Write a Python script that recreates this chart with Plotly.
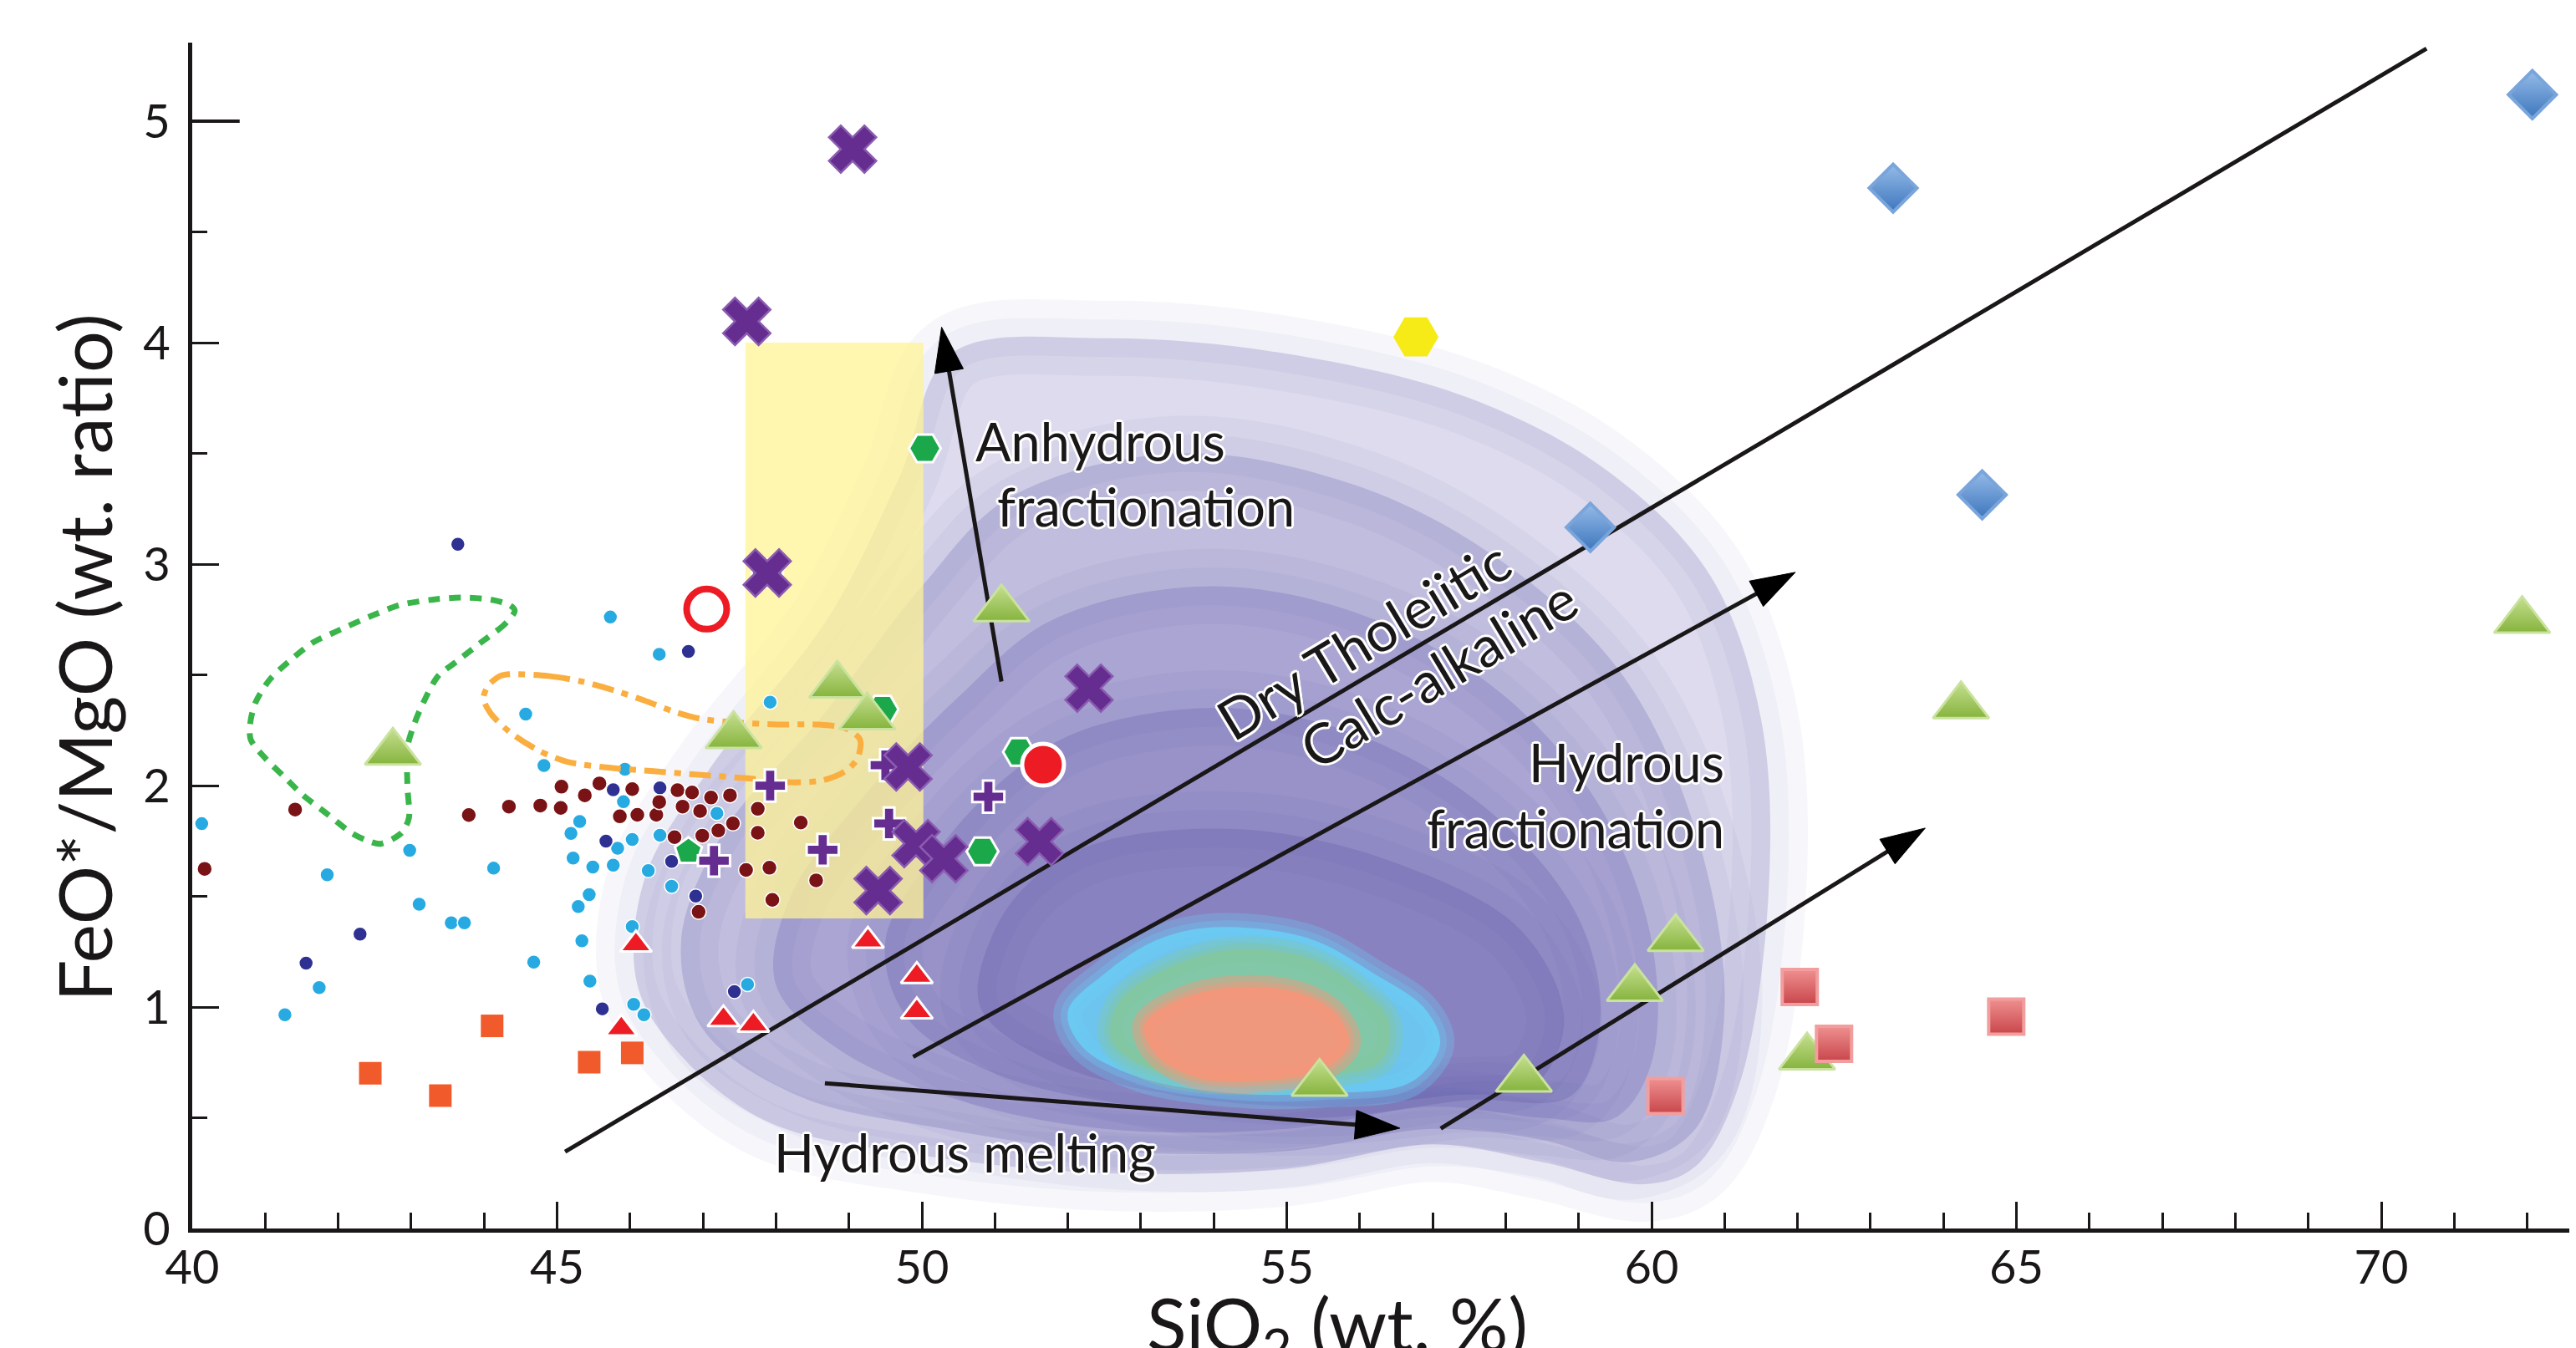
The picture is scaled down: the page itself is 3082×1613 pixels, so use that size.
import plotly.graph_objects as go

# ---------------- data ----------------
cyan_x = [45.73, 46.40, 44.57, 44.82, 45.93, 47.92, 40.13, 45.91, 45.31, 45.19, 46.03, 45.83, 46.41, 47.19,
          42.98, 41.85, 44.13, 45.22, 45.49, 45.77, 46.25, 46.57, 45.44, 45.29, 43.11, 43.55, 43.73, 46.03,
          45.34, 44.68, 41.74, 41.27, 45.45, 46.05, 46.19, 47.61]
cyan_y = [2.761, 2.593, 2.323, 2.091, 2.074, 2.377, 1.828, 1.927, 1.838, 1.784, 1.757, 1.717, 1.776, 1.875,
          1.708, 1.597, 1.627, 1.673, 1.632, 1.641, 1.616, 1.545, 1.508, 1.454, 1.464, 1.380, 1.380, 1.363,
          1.299, 1.203, 1.088, 0.965, 1.117, 1.012, 0.965, 1.102]

navy_x = [43.64, 46.80, 45.77, 46.41, 45.67, 46.57, 46.90, 42.30, 41.56, 45.62, 47.43]
navy_y = [3.090, 2.606, 1.981, 1.990, 1.749, 1.658, 1.501, 1.329, 1.198, 0.992, 1.070]

maroon_x = [41.41, 40.17, 43.79, 44.34, 44.77, 45.05, 45.06, 45.38, 45.58, 46.03, 45.86, 46.10, 46.36, 46.40,
            46.65, 46.85, 46.72, 46.96, 47.11, 47.37, 47.75, 47.41, 47.21, 46.99, 46.61, 47.75, 48.34, 47.59,
            47.91, 48.55, 47.95, 46.94]
maroon_y = [1.892, 1.624, 1.867, 1.905, 1.910, 1.899, 1.995, 1.956, 2.010, 1.984, 1.861, 1.868, 1.868, 1.926,
            1.979, 1.969, 1.905, 1.885, 1.946, 1.956, 1.895, 1.829, 1.797, 1.774, 1.767, 1.787, 1.833, 1.619,
            1.629, 1.572, 1.484, 1.430]

osq_x = [44.11, 42.44, 43.40, 45.44, 46.03]
osq_y = [0.915, 0.701, 0.600, 0.751, 0.793]

rtri_x = [46.08, 45.88, 47.28, 47.69, 49.26, 49.93, 49.93]
rtri_y = [1.282, 0.903, 0.945, 0.920, 1.299, 1.140, 0.980]

gtri_x = [42.75, 47.42, 48.84, 49.25, 51.09, 55.45, 58.25, 59.77, 60.33, 62.13, 64.24, 71.93]
gtri_y = [2.150, 2.225, 2.453, 2.310, 2.797, 0.655, 0.674, 1.083, 1.309, 0.774, 2.360, 2.745]

px_x = [49.05, 47.60, 47.88, 52.29, 49.81, 49.40, 49.92, 50.30, 51.61]
px_y = [4.874, 4.096, 2.960, 2.440, 2.084, 1.526, 1.738, 1.670, 1.747]

plus_x = [47.92, 47.15, 48.64, 49.55, 49.50, 50.91]
plus_y = [2.000, 1.661, 1.710, 1.829, 2.092, 1.950]

hex_x = [50.04, 49.46, 51.33, 50.83, 47.88]
hex_y = [3.523, 2.344, 2.152, 1.703, 2.960]

pent_x = [46.80]
pent_y = [1.703]

ocirc_x = [47.05]
ocirc_y = [2.797]

rcirc_x = [51.66]
rcirc_y = [2.094]

yhex_x = [56.77]
yhex_y = [4.026]

diam_x = [63.31, 59.16, 64.53, 72.07]
diam_y = [4.698, 3.166, 3.313, 5.120]

rsq_x = [62.03, 62.50, 60.19, 64.86]
rsq_y = [1.091, 0.834, 0.598, 0.957]

# closed outlines
green_loop_x = [44.42, 44.29, 43.96, 43.63, 43.37, 43.17, 43.04, 42.95, 42.95, 42.97, 42.87, 42.58, 42.38,
                42.18, 41.85, 41.52, 41.26, 41.00, 40.80, 40.80, 40.87, 41.06, 41.33, 41.66, 41.98, 42.44,
                42.84, 43.30, 43.69, 44.09, 44.35, 44.42]
green_loop_y = [2.790, 2.731, 2.647, 2.562, 2.495, 2.377, 2.276, 2.175, 1.990, 1.855, 1.787, 1.737, 1.754,
                1.787, 1.872, 1.956, 2.040, 2.124, 2.209, 2.293, 2.377, 2.478, 2.562, 2.647, 2.697, 2.764,
                2.815, 2.840, 2.849, 2.840, 2.815, 2.790]

orange_loop_x = [44.35, 44.88, 45.34, 45.80, 46.19, 46.59, 46.98, 47.51, 48.03, 48.56, 48.95, 49.15, 49.12,
                 48.95, 48.63, 48.17, 47.64, 46.98, 46.32, 45.67, 45.14, 44.75, 44.35, 44.09, 43.99, 44.06,
                 44.22, 44.35]
orange_loop_y = [2.503, 2.495, 2.470, 2.428, 2.385, 2.335, 2.301, 2.284, 2.276, 2.276, 2.259, 2.209, 2.124,
                 2.065, 2.023, 2.015, 2.032, 2.048, 2.065, 2.082, 2.107, 2.158, 2.242, 2.326, 2.394, 2.453,
                 2.495, 2.503]

rect_x = [47.58, 50.02, 50.02, 47.58, 47.58]
rect_y = [1.40, 1.40, 4.00, 4.00, 1.40]

# density cloud levels (outer -> inner)
cloud1_x = [50.4, 52.5, 55.0, 57.5, 59.4, 60.8, 61.5, 61.6, 61.2, 60.6, 59.9, 58.5, 57.0, 55.0, 52.5, 50.0,
            47.9, 46.7, 46.1, 46.2, 47.1, 48.7, 49.7, 50.4]
cloud1_y = [3.95, 4.02, 3.95, 3.75, 3.42, 2.95, 2.30, 1.50, 0.65, 0.28, 0.20, 0.30, 0.38, 0.27, 0.25, 0.33,
            0.48, 0.78, 1.10, 1.58, 2.08, 2.75, 3.40, 3.95]
cloud2_x = [51.2, 53.5, 56.0, 58.0, 59.6, 60.6, 61.0, 60.6, 59.7, 58.5, 57.0, 55.0, 52.5, 50.3, 48.3, 47.0,
            46.7, 47.3, 48.6, 50.0, 51.2]
cloud2_y = [3.30, 3.50, 3.35, 3.00, 2.50, 1.80, 1.00, 0.45, 0.30, 0.40, 0.45, 0.35, 0.35, 0.45, 0.60, 0.90,
            1.30, 1.80, 2.30, 2.90, 3.30]
cloud3_x = [51.8, 54.0, 56.2, 58.0, 59.3, 60.0, 60.0, 59.5, 58.5, 57.0, 55.0, 52.5, 50.5, 48.9, 48.0, 48.2,
            49.2, 50.5, 51.8]
cloud3_y = [2.75, 2.90, 2.75, 2.40, 1.90, 1.30, 0.75, 0.50, 0.50, 0.55, 0.45, 0.45, 0.58, 0.80, 1.10, 1.50,
            1.95, 2.40, 2.75]
cloud4_x = [52.2, 54.2, 56.2, 57.9, 59.0, 59.3, 58.9, 57.5, 55.5, 53.0, 51.0, 49.8, 49.5, 50.2, 51.2, 52.2]
cloud4_y = [2.25, 2.35, 2.20, 1.85, 1.40, 0.95, 0.60, 0.58, 0.50, 0.55, 0.70, 0.95, 1.30, 1.70, 2.05, 2.25]
cloud5_x = [52.5, 54.5, 56.5, 58.2, 58.8, 58.4, 57.2, 55.5, 53.5, 51.8, 50.8, 51.0, 51.6, 52.5]
cloud5_y = [1.75, 1.80, 1.65, 1.35, 0.95, 0.65, 0.60, 0.55, 0.60, 0.75, 1.00, 1.35, 1.60, 1.75]

blob_cyan_x = [54.0, 55.3, 56.2, 56.9, 57.1, 56.7, 55.5, 54.3, 53.0, 52.2, 52.0, 52.5, 53.2, 54.0]
blob_cyan_y = [1.36, 1.31, 1.15, 0.99, 0.83, 0.66, 0.61, 0.61, 0.68, 0.82, 0.98, 1.15, 1.30, 1.36]
blob_green_x = [54.3, 55.3, 56.0, 56.4, 56.3, 55.6, 54.3, 53.2, 52.6, 52.7, 53.4, 54.3]
blob_green_y = [1.26, 1.22, 1.08, 0.93, 0.76, 0.69, 0.66, 0.71, 0.85, 1.02, 1.18, 1.26]
blob_orange_x = [54.3, 55.2, 55.7, 55.85, 55.5, 54.7, 53.8, 53.2, 53.05, 53.5, 54.3]
blob_orange_y = [1.09, 1.06, 0.96, 0.83, 0.72, 0.67, 0.68, 0.79, 0.92, 1.03, 1.09]

# lines and arrows: [x0, x1], [y0, y1]
divide_x = [45.11, 70.62]
divide_y = [0.347, 5.328]
arrow_anhyd_x = [51.09, 50.27]
arrow_anhyd_y = [2.47, 4.07]
arrow_calc_x = [49.88, 61.97]
arrow_calc_y = [0.775, 2.963]
arrow_hyd_x = [57.11, 63.75]
arrow_hyd_y = [0.451, 1.808]
arrow_melt_x = [48.67, 56.55]
arrow_melt_y = [0.656, 0.453]

x_ticks = [40, 45, 50, 55, 60, 65, 70]
y_ticks = [0, 1, 2, 3, 4, 5]

FONT = "Lato"
INK = "#1a1718"

fig = go.Figure()

def soft_region(x, y, rgb, alpha, halo_alpha, halo_w):
    # filled core
    fig.add_trace(go.Scatter(x=x, y=y, mode="lines", fill="toself",
                             fillcolor="rgba(%s,%.3f)" % (rgb, alpha),
                             line=dict(width=0, shape="spline", smoothing=1.0),
                             hoverinfo="skip", showlegend=False))
    # soft edges
    for w in halo_w:
        fig.add_trace(go.Scatter(x=x, y=y, mode="lines",
                                 line=dict(color="rgba(%s,%.3f)" % (rgb, halo_alpha), width=w,
                                           shape="spline", smoothing=1.0),
                                 hoverinfo="skip", showlegend=False))

# ---- density cloud ----
for cx, cy in [(cloud1_x, cloud1_y), (cloud2_x, cloud2_y), (cloud3_x, cloud3_y),
               (cloud4_x, cloud4_y), (cloud5_x, cloud5_y)]:
    soft_region(cx, cy, "75,65,160", 0.19, 0.045, [90, 45])

soft_region(blob_cyan_x, blob_cyan_y, "105,205,245", 0.88, 0.30, [34, 16])
soft_region(blob_green_x, blob_green_y, "132,200,158", 0.90, 0.35, [30, 14])
soft_region(blob_orange_x, blob_orange_y, "245,150,122", 0.95, 0.45, [28, 12])

# ---- yellow field ----
fig.add_trace(go.Scatter(x=rect_x, y=rect_y, mode="lines", fill="toself",
                         fillcolor="rgba(255,243,150,0.75)", line=dict(width=0),
                         hoverinfo="skip", showlegend=False))

# ---- small dots ----
def dots(x, y, color, size=17):
    fig.add_trace(go.Scatter(x=x, y=y, mode="markers", showlegend=False,
                             marker=dict(color=color, size=size, line=dict(color="white", width=1.5))))

dots(cyan_x, cyan_y, "#27aae1")
dots(navy_x, navy_y, "#2e3192")
dots(maroon_x, maroon_y, "#7a1316", 18)
fig.add_trace(go.Scatter(x=osq_x, y=osq_y, mode="markers", showlegend=False,
                         marker=dict(symbol="square", color="#f15a2b", size=27)))

# ---- outlines ----
fig.add_trace(go.Scatter(x=green_loop_x, y=green_loop_y, mode="lines", showlegend=False,
                         line=dict(color="#3ab54a", width=7, dash="14px,11px", shape="spline", smoothing=0.8)))
fig.add_trace(go.Scatter(x=orange_loop_x, y=orange_loop_y, mode="lines", showlegend=False,
                         line=dict(color="#fbae40", width=7, dash="26px,10px,8px,10px", shape="spline",
                                   smoothing=0.8)))

# ---- lines / arrows ----
fig.add_trace(go.Scatter(x=divide_x, y=divide_y, mode="lines", showlegend=False,
                         line=dict(color=INK, width=5)))
for ax_, ay_ in [(arrow_anhyd_x, arrow_anhyd_y), (arrow_calc_x, arrow_calc_y),
                 (arrow_hyd_x, arrow_hyd_y), (arrow_melt_x, arrow_melt_y)]:
    fig.add_trace(go.Scatter(x=ax_, y=ay_, mode="lines+markers", showlegend=False,
                             line=dict(color=INK, width=5),
                             marker=dict(symbol="arrow", size=[0, 56], angleref="previous", color="#000000",
                                         opacity=1, line=dict(color="#000000", width=1))))

# ---- symbols ----
fig.add_trace(go.Scatter(x=rtri_x, y=rtri_y, mode="markers", showlegend=False,
                         marker=dict(symbol="triangle-up", size=33, color="#ed1c24",
                                     line=dict(color="white", width=3))))
fig.add_trace(go.Scatter(x=hex_x, y=hex_y, mode="markers", showlegend=False,
                         marker=dict(symbol="hexagon2", size=38, color="#1ba84b",
                                     line=dict(color="white", width=3))))
fig.add_trace(go.Scatter(x=pent_x, y=pent_y, mode="markers", showlegend=False,
                         marker=dict(symbol="pentagon", size=34, color="#1ba84b",
                                     line=dict(color="white", width=3))))
fig.add_trace(go.Scatter(x=plus_x, y=plus_y, mode="markers", showlegend=False,
                         marker=dict(symbol="cross", size=32, color="#662d91",
                                     line=dict(color="white", width=3))))
fig.add_trace(go.Scatter(x=px_x, y=px_y, mode="markers", showlegend=False,
                         marker=dict(symbol="x", size=50, color="#662d91",
                                     line=dict(color="#8a5cb0", width=2.5))))
fig.add_trace(go.Scatter(x=gtri_x, y=gtri_y, mode="markers", showlegend=False,
                         marker=dict(symbol="triangle-up", size=58, color="#c6df90",
                                     gradient=dict(type="vertical", color="#86b43e"),
                                     line=dict(color="#c9e29d", width=3))))
fig.add_trace(go.Scatter(x=ocirc_x, y=ocirc_y, mode="markers", showlegend=False,
                         marker=dict(symbol="circle-open", size=48, color="#ed1c24",
                                     line=dict(color="#ed1c24", width=8))))
fig.add_trace(go.Scatter(x=rcirc_x, y=rcirc_y, mode="markers", showlegend=False,
                         marker=dict(symbol="circle", size=50, color="#ed1c24",
                                     line=dict(color="white", width=5))))
fig.add_trace(go.Scatter(x=yhex_x, y=yhex_y, mode="markers", showlegend=False,
                         marker=dict(symbol="hexagon2", size=54, color="#f6eb16", line=dict(width=0))))
fig.add_trace(go.Scatter(x=diam_x, y=diam_y, mode="markers", showlegend=False,
                         marker=dict(symbol="diamond", size=44, color="#95bbe8",
                                     gradient=dict(type="vertical", color="#3d76bd"),
                                     line=dict(color="#7aa5db", width=4))))
fig.add_trace(go.Scatter(x=rsq_x, y=rsq_y, mode="markers", showlegend=False,
                         marker=dict(symbol="square", size=42, color="#ef9090",
                                     gradient=dict(type="vertical", color="#c8464b"),
                                     line=dict(color="#f29e9e", width=4))))

# ---- text labels ----
OUT = ("3px 0 0 white, -3px 0 0 white, 0 3px 0 white, 0 -3px 0 white, "
       "2px 2px 0 white, -2px -2px 0 white, 2px -2px 0 white, -2px 2px 0 white")
def label(text, x, y, xanchor="center", angle=0, size=63):
    fig.add_annotation(text=text, x=x, y=y, xref="x", yref="y", showarrow=False,
                       xanchor=xanchor, yanchor="middle", textangle=angle,
                       font=dict(family=FONT, size=size, color=INK, shadow=OUT))

label("Anhydrous", 50.71, 3.555, "left")
label("fractionation", 51.01, 3.262, "left")
label("Dry Tholeiitic", 56.05, 2.66, angle=-31, size=67)
label("Calc-alkaline", 57.07, 2.51, angle=-31, size=67)
label("Hydrous", 61.02, 2.108, "right")
label("fractionation", 61.02, 1.808, "right")
label("Hydrous melting", 47.95, 0.345, "left")

# axis titles
fig.add_annotation(text="FeO*/MgO (wt. ratio)", xref="paper", yref="paper", x=0, y=0.481,
                   xanchor="center", yanchor="middle", xshift=-130, textangle=-90, showarrow=False,
                   font=dict(family=FONT, size=88, color=INK))
fig.add_annotation(text="SiO<sub>2</sub> (wt. %)", xref="paper", yref="paper", x=0.479, y=0,
                   xanchor="center", yanchor="top", yshift=-58, showarrow=False,
                   font=dict(family=FONT, size=88, color=INK))

# long tick at y = 5
fig.add_shape(type="line", x0=40, x1=40.65, y0=5, y1=5, xref="x", yref="y",
              line=dict(color=INK, width=4), layer="above")

fig.update_layout(
    width=3082, height=1613,
    margin=dict(l=222, r=0, t=43, b=151),
    paper_bgcolor="white", plot_bgcolor="white",
    showlegend=False,
    font=dict(family=FONT, color=INK),
    xaxis=dict(range=[40, 72.76], tickvals=x_ticks, ticks="inside", ticklen=32, tickwidth=3,
               tickcolor=INK, showline=True, linewidth=5, linecolor=INK, showgrid=False,
               zeroline=False, tickfont=dict(family=FONT, size=56, color=INK), ticklabelstandoff=-6,
               minor=dict(ticks="inside", dtick=1, ticklen=19, tickwidth=3, tickcolor=INK, showgrid=False)),
    yaxis=dict(range=[0, 5.355], tickvals=y_ticks, ticks="inside", ticklen=32, tickwidth=3,
               tickcolor=INK, showline=True, linewidth=5, linecolor=INK, showgrid=False,
               zeroline=False, tickfont=dict(family=FONT, size=56, color=INK), ticklabelstandoff=10,
               minor=dict(ticks="inside", dtick=0.5, ticklen=18, tickwidth=3, tickcolor=INK, showgrid=False)),
)

fig.write_html("out.html")
